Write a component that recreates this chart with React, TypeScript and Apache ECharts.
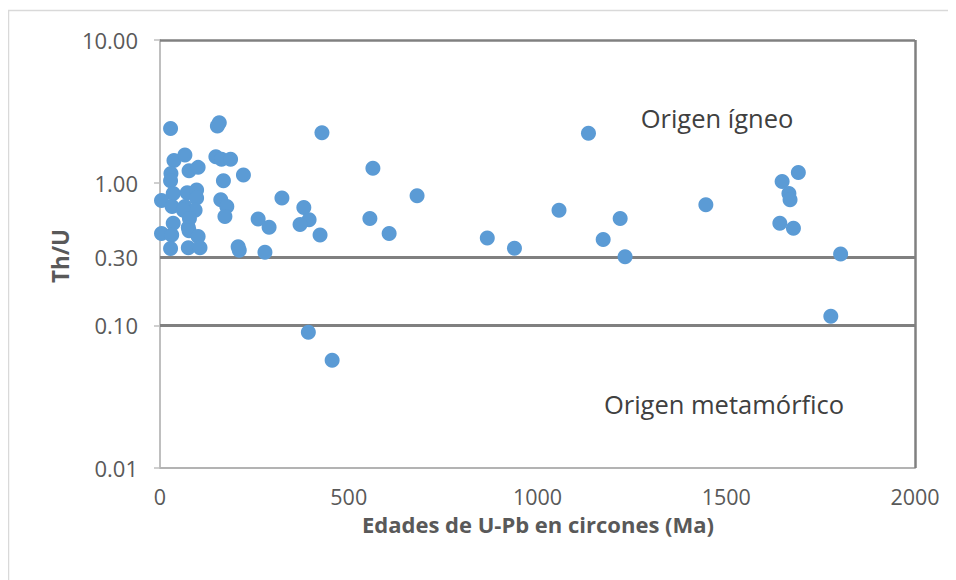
import React, { useEffect, useRef } from "react";
import * as echarts from "echarts";

const ages = [
  28, 37, 66, 29, 28, 77, 101, 35, 4, 72, 97, 97, 32, 66, 93, 62, 78, 35, 75, 4, 31, 77, 101, 28, 75, 106,
  157, 152, 148, 163, 187, 221, 168, 161, 177, 172, 260, 289, 207, 210, 278,
  323, 381, 395, 371, 424, 429, 564, 681, 556, 607, 393, 456,
  1135, 1057, 1219, 1174, 1232, 867, 939,
  1691, 1648, 1666, 1669, 1642, 1678, 1803, 1777, 1446,
];
const thU = [
  2.4, 1.43, 1.56, 1.16, 1.03, 1.21, 1.28, 0.84, 0.75, 0.85, 0.89, 0.78, 0.68, 0.68, 0.64, 0.64, 0.56, 0.52, 0.485, 0.44, 0.43, 0.46, 0.42, 0.345, 0.35, 0.35,
  2.63, 2.5, 1.52, 1.46, 1.46, 1.13, 1.03, 0.76, 0.68, 0.58, 0.557, 0.487, 0.356, 0.336, 0.325,
  0.78, 0.67, 0.55, 0.51, 0.43, 2.24, 1.26, 0.81, 0.56, 0.44, 0.0895, 0.057,
  2.22, 0.64, 0.56, 0.4, 0.303, 0.41, 0.347,
  1.18, 1.02, 0.84, 0.76, 0.52, 0.48, 0.316, 0.116, 0.7,
];
const limitLines = [0.3, 0.1];
const extraTickLabel = "0.30";
const xTitle = "Edades de U-Pb en circones (Ma)";
const yTitle = "Th/U";
const igneousLabel = "Origen ígneo";
const metamorphicLabel = "Origen metamórfico";

const FONT = "'Open Sans', sans-serif";

export default function App() {
  const ref = useRef<HTMLDivElement>(null);
  useEffect(() => {
    if (!ref.current) return;
    const chart = echarts.init(ref.current, undefined, { renderer: "svg" });
    const points = ages.map((a, i) => [a, thU[i]]);
    chart.setOption({
      animation: false,
      textStyle: { fontFamily: FONT },
      grid: { left: 152, top: 32, right: 41, bottom: 112, containLabel: false },
      xAxis: {
        type: "value",
        min: 0,
        max: 2000,
        interval: 500,
        axisLine: { show: true, lineStyle: { color: "#b3b3b3", width: 2 } },
        axisTick: { show: false },
        splitLine: { show: false },
        axisLabel: {
          color: "#595959",
          fontSize: 21.5,
          lineHeight: 21,
          fontFamily: FONT,
          margin: 18,
          formatter: (v: number) => String(v),
        },
      },
      yAxis: {
        type: "log",
        logBase: 10,
        min: 0.01,
        max: 10,
        axisLine: { show: true, lineStyle: { color: "#bfbfbf", width: 2 } },
        axisTick: { show: true, length: 6, lineStyle: { color: "#bfbfbf", width: 1.5 } },
        minorTick: { show: false },
        splitLine: { show: false },
        axisLabel: {
          color: "#595959",
          fontSize: 22,
          fontFamily: FONT,
          margin: 22,
          formatter: (v: number) => v.toFixed(2),
        },
      },
      series: [
        {
          type: "scatter",
          data: points,
          symbol: "circle",
          symbolSize: 15,
          itemStyle: { color: "#5b9bd5", opacity: 1 },
          z: 3,
          markLine: {
            silent: true,
            symbol: "none",
            animation: false,
            z: 2,
            data: [
              {
                yAxis: limitLines[0],
                lineStyle: { color: "#808080", width: 3, type: "solid" },
                label: {
                  show: true,
                  position: "start",
                  formatter: extraTickLabel,
                  color: "#595959",
                  fontSize: 22,
                  fontFamily: FONT,
                  distance: 22,
                },
              },
              {
                yAxis: limitLines[1],
                lineStyle: { color: "#808080", width: 3, type: "solid" },
                label: { show: false },
              },
              {
                yAxis: 10,
                lineStyle: { color: "#808080", width: 2.5, type: "solid" },
                label: { show: false },
              },
              {
                xAxis: 2000,
                lineStyle: { color: "#808080", width: 2.5, type: "solid" },
                label: { show: false },
              },
            ],
          },
        },
      ],
      graphic: [
        {
          type: "rect",
          shape: { x: 0.5, y: 2.5, width: 943, height: 600 },
          style: { fill: "none", stroke: "#d9d9d9", lineWidth: 1.5 },
          silent: true,
        },
        {
          type: "text",
          x: 709,
          y: 110,
          style: {
            text: igneousLabel,
            fill: "#404040",
            font: `25.5px ${FONT}`,
            textAlign: "center",
            textVerticalAlign: "middle",
          },
        },
        {
          type: "text",
          x: 716,
          y: 396,
          style: {
            text: metamorphicLabel,
            fill: "#404040",
            font: `25.5px ${FONT}`,
            textAlign: "center",
            textVerticalAlign: "middle",
          },
        },
        {
          type: "text",
          x: 530,
          y: 516,
          style: {
            text: xTitle,
            fill: "#595959",
            font: `bold 22px ${FONT}`,
            lineHeight: 22,
            textAlign: "center",
            textVerticalAlign: "middle",
          },
        },
        {
          type: "text",
          x: 52,
          y: 248,
          rotation: Math.PI / 2,
          style: {
            text: yTitle,
            fill: "#595959",
            font: `bold 22.5px ${FONT}`,
            textAlign: "center",
            textVerticalAlign: "middle",
          },
        },
      ],
    });
    return () => chart.dispose();
  }, []);
  return <div ref={ref} style={{ width: 948, height: 572 }} />;
}
